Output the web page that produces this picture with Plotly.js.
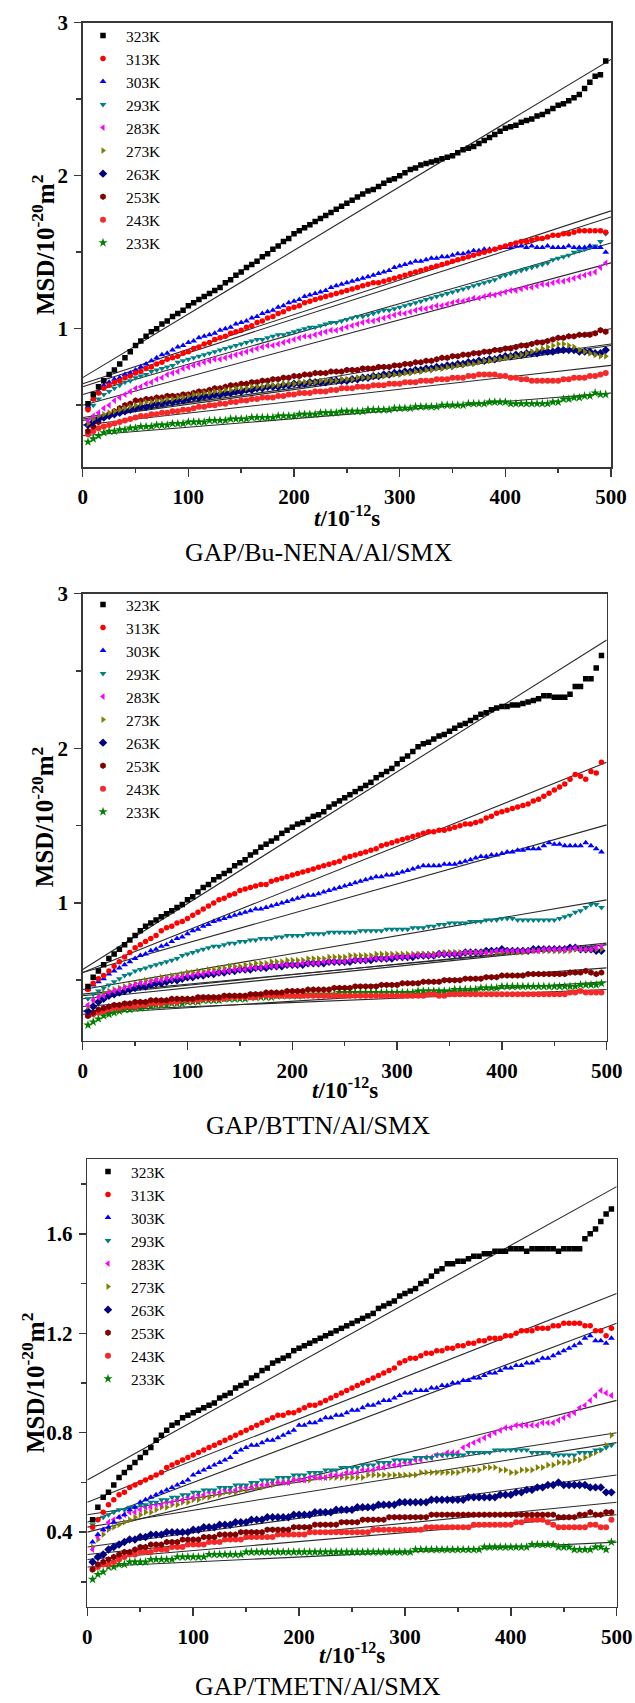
<!DOCTYPE html>
<html>
<head>
<meta charset="utf-8">
<script src="https://cdn.plot.ly/plotly-3.0.1.min.js"></script>
<style>
html,body{margin:0;padding:0;background:#fff;}
#chart{width:635px;height:1703px;}
</style>
</head>
<body>
<div id="chart"></div>
<script>
// ---------- time grid (ps) ----------
const t = [5,10,15,20,25,30,35,40,45,50,55,60,65,70,75,80,85,90,95,100,
105,110,115,120,125,130,135,140,145,150,155,160,165,170,175,180,185,190,195,200,
205,210,215,220,225,230,235,240,245,250,255,260,265,270,275,280,285,290,295,300,
305,310,315,320,325,330,335,340,345,350,355,360,365,370,375,380,385,390,395,400,
405,410,415,420,425,430,435,440,445,450,455,460,465,470,475,480,485,490,495];

const temps = ['323K','313K','303K','293K','283K','273K','263K','253K','243K','233K'];
const fitT = [0, 500];

// ---------- Panel 1: GAP/Bu-NENA/Al/SMX ----------
const bu323 = [0.51,0.57,0.62,0.66,0.70,0.73,0.77,0.81,0.85,0.89,0.92,0.95,0.98,1.00,1.03,1.05,1.08,1.10,1.12,1.15,
1.17,1.19,1.21,1.23,1.25,1.27,1.30,1.32,1.35,1.37,1.40,1.42,1.44,1.47,1.49,1.52,1.54,1.57,1.59,1.62,
1.64,1.66,1.68,1.70,1.72,1.74,1.76,1.78,1.80,1.82,1.84,1.86,1.88,1.90,1.91,1.93,1.95,1.97,1.98,2.00,
2.02,2.04,2.05,2.07,2.08,2.09,2.10,2.11,2.12,2.13,2.15,2.17,2.18,2.19,2.21,2.23,2.25,2.27,2.29,2.31,
2.32,2.33,2.35,2.36,2.37,2.39,2.40,2.42,2.44,2.46,2.47,2.49,2.51,2.53,2.57,2.61,2.65,2.66,2.75];
const bu313 = [0.47,0.54,0.58,0.61,0.63,0.65,0.66,0.68,0.69,0.71,0.72,0.74,0.75,0.77,0.78,0.80,0.81,0.82,0.84,0.85,
0.87,0.88,0.90,0.91,0.93,0.94,0.95,0.97,0.98,0.99,1.01,1.02,1.04,1.05,1.07,1.08,1.10,1.11,1.13,1.14,
1.15,1.17,1.18,1.19,1.20,1.21,1.22,1.23,1.24,1.25,1.26,1.27,1.28,1.29,1.30,1.30,1.31,1.32,1.33,1.34,
1.35,1.36,1.37,1.38,1.39,1.40,1.41,1.42,1.43,1.44,1.45,1.46,1.47,1.48,1.49,1.50,1.51,1.52,1.53,1.54,
1.55,1.56,1.57,1.57,1.58,1.59,1.59,1.60,1.61,1.61,1.62,1.62,1.63,1.64,1.64,1.64,1.64,1.64,1.63];
const bu303 = [0.49,0.54,0.59,0.63,0.65,0.67,0.68,0.70,0.71,0.73,0.75,0.77,0.79,0.81,0.83,0.84,0.86,0.88,0.89,0.91,
0.92,0.94,0.95,0.96,0.97,0.99,1.00,1.01,1.03,1.04,1.05,1.07,1.08,1.10,1.11,1.12,1.14,1.15,1.17,1.18,
1.19,1.21,1.22,1.23,1.24,1.25,1.27,1.28,1.29,1.30,1.31,1.32,1.33,1.34,1.35,1.36,1.37,1.38,1.40,1.41,
1.42,1.43,1.44,1.44,1.45,1.46,1.46,1.47,1.47,1.48,1.49,1.49,1.50,1.51,1.51,1.52,1.52,1.52,1.53,1.53,
1.53,1.54,1.54,1.53,1.54,1.53,1.53,1.54,1.53,1.53,1.53,1.54,1.53,1.53,1.53,1.54,1.53,1.53,1.50];
const bu293 = [0.47,0.50,0.54,0.57,0.59,0.61,0.63,0.65,0.66,0.68,0.69,0.70,0.72,0.73,0.74,0.75,0.76,0.78,0.79,0.80,
0.81,0.82,0.83,0.84,0.85,0.86,0.87,0.88,0.89,0.90,0.91,0.92,0.93,0.93,0.94,0.95,0.96,0.96,0.97,0.98,
0.99,1.00,1.01,1.01,1.02,1.03,1.04,1.04,1.05,1.06,1.07,1.08,1.08,1.09,1.10,1.11,1.12,1.12,1.13,1.14,
1.15,1.16,1.17,1.18,1.19,1.20,1.21,1.22,1.23,1.24,1.25,1.26,1.27,1.28,1.29,1.30,1.31,1.32,1.34,1.35,
1.36,1.37,1.38,1.39,1.40,1.41,1.42,1.43,1.45,1.46,1.47,1.48,1.50,1.51,1.52,1.53,1.54,1.57,1.62];
const bu283 = [0.40,0.43,0.45,0.48,0.50,0.53,0.55,0.57,0.59,0.61,0.62,0.64,0.65,0.67,0.68,0.70,0.71,0.72,0.74,0.75,
0.76,0.77,0.78,0.79,0.80,0.80,0.81,0.82,0.83,0.84,0.85,0.86,0.87,0.88,0.89,0.89,0.90,0.91,0.92,0.93,
0.94,0.95,0.95,0.96,0.97,0.98,0.99,0.99,1.00,1.01,1.02,1.03,1.04,1.05,1.05,1.06,1.07,1.08,1.09,1.10,
1.10,1.11,1.12,1.13,1.13,1.14,1.15,1.15,1.16,1.17,1.18,1.18,1.19,1.20,1.20,1.21,1.22,1.22,1.23,1.24,
1.25,1.25,1.26,1.27,1.27,1.28,1.29,1.29,1.30,1.31,1.31,1.32,1.33,1.34,1.35,1.36,1.37,1.40,1.43];
const bu273 = [0.38,0.41,0.43,0.44,0.45,0.46,0.47,0.48,0.49,0.50,0.51,0.52,0.52,0.53,0.53,0.54,0.54,0.55,0.55,0.56,
0.57,0.57,0.58,0.58,0.59,0.59,0.60,0.60,0.61,0.61,0.61,0.62,0.62,0.62,0.63,0.63,0.63,0.64,0.64,0.64,
0.65,0.65,0.65,0.65,0.66,0.66,0.66,0.66,0.67,0.67,0.67,0.68,0.68,0.68,0.69,0.69,0.69,0.70,0.70,0.70,
0.71,0.71,0.72,0.72,0.73,0.73,0.74,0.74,0.75,0.75,0.76,0.76,0.77,0.77,0.78,0.79,0.79,0.80,0.80,0.81,
0.82,0.82,0.83,0.84,0.85,0.86,0.87,0.88,0.89,0.90,0.90,0.89,0.88,0.86,0.85,0.84,0.83,0.82,0.82];
const bu263 = [0.37,0.39,0.41,0.42,0.43,0.44,0.45,0.46,0.47,0.48,0.49,0.49,0.50,0.51,0.51,0.52,0.52,0.53,0.53,0.54,
0.55,0.55,0.56,0.56,0.57,0.57,0.58,0.58,0.59,0.59,0.60,0.60,0.61,0.61,0.62,0.62,0.62,0.63,0.63,0.64,
0.64,0.64,0.65,0.65,0.65,0.65,0.66,0.66,0.66,0.66,0.67,0.67,0.68,0.68,0.69,0.69,0.70,0.70,0.71,0.71,
0.72,0.72,0.73,0.73,0.74,0.74,0.75,0.75,0.76,0.76,0.77,0.77,0.78,0.78,0.79,0.79,0.80,0.80,0.81,0.82,
0.82,0.83,0.83,0.84,0.84,0.84,0.85,0.85,0.85,0.86,0.86,0.86,0.86,0.85,0.85,0.85,0.84,0.84,0.86];
const bu253 = [0.33,0.36,0.39,0.42,0.44,0.46,0.48,0.50,0.51,0.53,0.53,0.54,0.54,0.55,0.55,0.56,0.56,0.56,0.57,0.57,
0.58,0.59,0.59,0.60,0.61,0.61,0.62,0.63,0.63,0.64,0.64,0.65,0.65,0.66,0.66,0.67,0.67,0.68,0.68,0.69,
0.69,0.70,0.70,0.71,0.71,0.71,0.72,0.72,0.72,0.73,0.73,0.73,0.74,0.74,0.74,0.75,0.75,0.75,0.76,0.76,
0.77,0.77,0.78,0.78,0.79,0.79,0.80,0.81,0.81,0.82,0.82,0.83,0.83,0.84,0.84,0.85,0.85,0.86,0.86,0.87,
0.87,0.88,0.89,0.89,0.90,0.91,0.91,0.92,0.93,0.94,0.94,0.95,0.95,0.96,0.96,0.96,0.97,0.99,0.98];
const bu243 = [0.31,0.33,0.35,0.36,0.37,0.38,0.39,0.40,0.41,0.42,0.43,0.43,0.44,0.44,0.45,0.45,0.46,0.46,0.47,0.47,
0.48,0.49,0.49,0.50,0.50,0.51,0.51,0.52,0.52,0.53,0.53,0.54,0.54,0.55,0.55,0.55,0.56,0.56,0.57,0.57,
0.58,0.58,0.58,0.59,0.59,0.59,0.60,0.60,0.61,0.61,0.61,0.62,0.62,0.62,0.63,0.63,0.63,0.64,0.64,0.64,
0.65,0.65,0.65,0.66,0.66,0.66,0.67,0.67,0.67,0.68,0.68,0.68,0.69,0.69,0.70,0.70,0.70,0.70,0.69,0.69,
0.68,0.68,0.67,0.67,0.66,0.66,0.66,0.66,0.66,0.66,0.67,0.67,0.68,0.68,0.68,0.69,0.69,0.70,0.71];
const bu233 = [0.26,0.28,0.30,0.32,0.33,0.33,0.34,0.34,0.35,0.35,0.36,0.36,0.36,0.37,0.37,0.37,0.38,0.38,0.38,0.39,
0.39,0.39,0.39,0.40,0.40,0.40,0.40,0.41,0.41,0.41,0.41,0.42,0.42,0.42,0.42,0.42,0.43,0.43,0.43,0.43,
0.44,0.44,0.44,0.44,0.45,0.45,0.45,0.45,0.46,0.46,0.46,0.46,0.46,0.47,0.47,0.47,0.47,0.47,0.48,0.48,
0.48,0.48,0.49,0.49,0.49,0.49,0.49,0.50,0.50,0.50,0.50,0.50,0.51,0.51,0.51,0.51,0.52,0.52,0.52,0.52,
0.51,0.51,0.51,0.51,0.51,0.51,0.51,0.51,0.52,0.52,0.54,0.54,0.55,0.55,0.56,0.56,0.58,0.57,0.57];
const buFitStart = [0.68,0.64,0.62,0.57,0.50,0.42,0.41,0.40,0.37,0.30];
const buFitEnd   = [2.76,1.77,1.73,1.56,1.43,0.90,0.89,1.00,0.76,0.58];

// ---------- Panel 2: GAP/BTTN/Al/SMX ----------
const bt323 = [0.46,0.52,0.56,0.60,0.64,0.67,0.70,0.73,0.76,0.79,0.82,0.85,0.87,0.89,0.91,0.93,0.95,0.97,0.99,1.02,
1.04,1.07,1.10,1.12,1.15,1.17,1.19,1.21,1.24,1.26,1.28,1.31,1.33,1.36,1.38,1.40,1.42,1.45,1.47,1.49,
1.51,1.52,1.54,1.56,1.57,1.59,1.62,1.64,1.66,1.68,1.70,1.72,1.74,1.76,1.78,1.81,1.83,1.85,1.87,1.90,
1.93,1.95,1.98,2.01,2.03,2.04,2.06,2.08,2.09,2.11,2.13,2.15,2.16,2.18,2.20,2.22,2.23,2.25,2.26,2.27,
2.27,2.28,2.28,2.29,2.30,2.31,2.32,2.34,2.34,2.33,2.33,2.33,2.35,2.40,2.40,2.45,2.45,2.52,2.60];
const bt313 = [0.44,0.48,0.51,0.53,0.56,0.59,0.62,0.65,0.68,0.71,0.73,0.75,0.77,0.79,0.82,0.84,0.85,0.87,0.88,0.90,
0.92,0.94,0.96,0.98,1.00,1.02,1.03,1.05,1.06,1.08,1.09,1.10,1.11,1.12,1.12,1.14,1.15,1.16,1.17,1.18,
1.19,1.20,1.21,1.22,1.23,1.24,1.25,1.26,1.27,1.29,1.30,1.31,1.32,1.33,1.34,1.35,1.37,1.38,1.39,1.40,
1.41,1.42,1.43,1.44,1.45,1.46,1.46,1.47,1.47,1.48,1.49,1.50,1.51,1.51,1.52,1.53,1.55,1.56,1.58,1.59,
1.60,1.61,1.62,1.63,1.64,1.66,1.67,1.69,1.71,1.73,1.75,1.77,1.80,1.83,1.82,1.80,1.85,1.84,1.91];
const bt303 = [0.44,0.47,0.49,0.51,0.54,0.56,0.58,0.60,0.62,0.64,0.66,0.67,0.69,0.70,0.72,0.73,0.75,0.77,0.78,0.80,
0.82,0.83,0.85,0.86,0.88,0.89,0.90,0.91,0.92,0.93,0.94,0.95,0.96,0.96,0.97,0.98,0.99,1.00,1.01,1.02,
1.03,1.04,1.05,1.05,1.06,1.07,1.08,1.09,1.10,1.11,1.12,1.13,1.14,1.15,1.16,1.17,1.17,1.18,1.18,1.19,
1.20,1.21,1.22,1.23,1.24,1.24,1.24,1.24,1.25,1.25,1.25,1.26,1.27,1.28,1.29,1.30,1.30,1.31,1.31,1.32,
1.33,1.33,1.34,1.34,1.35,1.35,1.35,1.37,1.39,1.38,1.38,1.37,1.37,1.37,1.37,1.39,1.37,1.35,1.33];
const bt293 = [0.38,0.41,0.43,0.45,0.47,0.49,0.51,0.53,0.54,0.56,0.57,0.58,0.59,0.60,0.61,0.62,0.63,0.64,0.66,0.67,
0.68,0.69,0.70,0.71,0.72,0.72,0.73,0.74,0.74,0.75,0.75,0.76,0.76,0.77,0.77,0.77,0.78,0.78,0.79,0.79,
0.79,0.79,0.80,0.80,0.80,0.80,0.81,0.81,0.81,0.81,0.81,0.81,0.82,0.82,0.82,0.82,0.82,0.83,0.83,0.83,
0.83,0.83,0.84,0.84,0.84,0.85,0.85,0.86,0.86,0.87,0.87,0.87,0.87,0.88,0.88,0.88,0.89,0.89,0.89,0.90,
0.90,0.90,0.89,0.89,0.89,0.89,0.89,0.89,0.89,0.89,0.90,0.91,0.92,0.94,0.95,0.97,0.99,0.99,0.97];
const bt283 = [0.34,0.37,0.39,0.40,0.42,0.43,0.44,0.45,0.46,0.47,0.48,0.48,0.49,0.50,0.50,0.51,0.51,0.52,0.52,0.53,
0.53,0.54,0.54,0.55,0.55,0.55,0.56,0.56,0.57,0.57,0.57,0.58,0.58,0.58,0.59,0.59,0.59,0.60,0.60,0.60,
0.60,0.61,0.61,0.61,0.61,0.62,0.62,0.62,0.62,0.62,0.63,0.63,0.63,0.63,0.64,0.64,0.64,0.64,0.65,0.65,
0.65,0.65,0.66,0.66,0.66,0.66,0.66,0.67,0.67,0.67,0.67,0.67,0.68,0.68,0.68,0.68,0.68,0.68,0.69,0.69,
0.69,0.69,0.69,0.69,0.69,0.69,0.69,0.70,0.70,0.70,0.70,0.70,0.70,0.71,0.70,0.70,0.70,0.71,0.72];
const bt273 = [0.33,0.37,0.40,0.42,0.43,0.44,0.45,0.46,0.47,0.48,0.49,0.50,0.50,0.51,0.52,0.52,0.53,0.53,0.54,0.55,
0.55,0.56,0.56,0.57,0.57,0.58,0.58,0.59,0.59,0.59,0.60,0.60,0.61,0.61,0.61,0.62,0.62,0.62,0.63,0.63,
0.63,0.63,0.64,0.64,0.64,0.64,0.65,0.65,0.65,0.65,0.66,0.66,0.66,0.66,0.66,0.67,0.67,0.67,0.67,0.67,
0.67,0.67,0.67,0.67,0.67,0.67,0.67,0.67,0.68,0.68,0.68,0.68,0.68,0.68,0.68,0.68,0.68,0.68,0.68,0.68,
0.68,0.68,0.68,0.68,0.69,0.69,0.69,0.69,0.69,0.69,0.69,0.69,0.69,0.70,0.70,0.70,0.70,0.70,0.70];
const bt263 = [0.30,0.33,0.36,0.38,0.40,0.41,0.42,0.43,0.44,0.45,0.46,0.46,0.47,0.48,0.48,0.49,0.50,0.50,0.51,0.52,
0.52,0.53,0.53,0.54,0.54,0.55,0.55,0.56,0.56,0.57,0.57,0.57,0.58,0.58,0.58,0.59,0.59,0.59,0.60,0.60,
0.60,0.60,0.61,0.61,0.61,0.61,0.62,0.62,0.62,0.62,0.62,0.63,0.63,0.63,0.63,0.64,0.64,0.64,0.64,0.65,
0.65,0.65,0.65,0.66,0.66,0.66,0.66,0.67,0.67,0.67,0.67,0.67,0.68,0.68,0.68,0.68,0.69,0.69,0.69,0.70,
0.69,0.69,0.69,0.69,0.69,0.70,0.70,0.70,0.70,0.70,0.70,0.70,0.71,0.71,0.70,0.70,0.70,0.69,0.69];
const bt253 = [0.27,0.29,0.31,0.32,0.33,0.34,0.34,0.35,0.35,0.36,0.36,0.36,0.37,0.37,0.37,0.37,0.38,0.38,0.38,0.38,
0.38,0.39,0.39,0.39,0.39,0.39,0.40,0.40,0.40,0.40,0.40,0.41,0.41,0.41,0.42,0.42,0.42,0.42,0.43,0.43,
0.43,0.43,0.44,0.44,0.44,0.44,0.44,0.45,0.45,0.45,0.45,0.46,0.46,0.46,0.46,0.46,0.47,0.47,0.47,0.47,
0.48,0.48,0.48,0.48,0.49,0.49,0.49,0.49,0.50,0.50,0.50,0.50,0.51,0.51,0.51,0.51,0.52,0.52,0.52,0.53,
0.53,0.53,0.53,0.53,0.54,0.54,0.54,0.54,0.54,0.54,0.54,0.54,0.55,0.55,0.55,0.56,0.55,0.54,0.55];
const bt243 = [0.27,0.28,0.29,0.30,0.31,0.32,0.32,0.33,0.33,0.33,0.34,0.34,0.35,0.35,0.35,0.36,0.36,0.36,0.37,0.37,
0.37,0.37,0.38,0.38,0.38,0.38,0.38,0.39,0.39,0.39,0.39,0.39,0.39,0.40,0.40,0.40,0.40,0.40,0.40,0.40,
0.40,0.40,0.40,0.40,0.40,0.40,0.40,0.40,0.40,0.40,0.40,0.40,0.40,0.40,0.40,0.40,0.40,0.40,0.40,0.40,
0.40,0.40,0.40,0.40,0.40,0.41,0.41,0.40,0.40,0.41,0.41,0.41,0.41,0.41,0.41,0.41,0.41,0.41,0.41,0.41,
0.41,0.41,0.41,0.41,0.41,0.41,0.41,0.41,0.41,0.41,0.41,0.41,0.42,0.42,0.43,0.42,0.42,0.42,0.42];
const bt233 = [0.21,0.23,0.25,0.27,0.28,0.29,0.30,0.31,0.31,0.32,0.32,0.33,0.33,0.34,0.34,0.34,0.35,0.35,0.35,0.36,
0.36,0.36,0.37,0.37,0.37,0.37,0.38,0.38,0.38,0.38,0.38,0.39,0.39,0.39,0.39,0.39,0.40,0.40,0.40,0.40,
0.40,0.40,0.41,0.41,0.41,0.41,0.41,0.41,0.42,0.42,0.42,0.42,0.42,0.42,0.42,0.42,0.42,0.42,0.42,0.42,
0.42,0.42,0.42,0.43,0.43,0.43,0.43,0.43,0.43,0.43,0.44,0.44,0.44,0.44,0.44,0.45,0.45,0.45,0.45,0.46,
0.46,0.46,0.46,0.46,0.46,0.46,0.46,0.46,0.46,0.46,0.46,0.46,0.46,0.46,0.47,0.47,0.47,0.47,0.48];
const btFitStart = [0.57,0.55,0.55,0.44,0.40,0.41,0.38,0.33,0.30,0.28];
const btFitEnd   = [2.70,1.91,1.505,1.02,0.74,0.73,0.73,0.58,0.44,0.49];

// ---------- Panel 3: GAP/TMETN/Al/SMX ----------
const tm323 = [0.45,0.50,0.54,0.56,0.59,0.62,0.64,0.66,0.68,0.70,0.72,0.74,0.77,0.79,0.81,0.83,0.84,0.86,0.87,0.88,
0.89,0.90,0.91,0.92,0.94,0.95,0.96,0.98,0.99,1.00,1.02,1.03,1.05,1.06,1.08,1.09,1.10,1.11,1.13,1.14,
1.15,1.16,1.17,1.18,1.19,1.20,1.21,1.22,1.23,1.24,1.25,1.26,1.27,1.28,1.30,1.31,1.32,1.33,1.35,1.36,
1.37,1.38,1.40,1.41,1.43,1.45,1.46,1.48,1.48,1.49,1.49,1.50,1.51,1.51,1.52,1.52,1.53,1.53,1.53,1.54,
1.54,1.54,1.53,1.54,1.54,1.54,1.54,1.54,1.53,1.54,1.54,1.54,1.54,1.58,1.60,1.62,1.65,1.68,1.70];
const tm313 = [0.42,0.45,0.48,0.51,0.53,0.55,0.56,0.58,0.59,0.60,0.61,0.62,0.63,0.64,0.66,0.67,0.68,0.69,0.70,0.71,
0.72,0.73,0.74,0.75,0.76,0.77,0.78,0.79,0.80,0.81,0.82,0.83,0.84,0.85,0.86,0.87,0.87,0.88,0.88,0.89,
0.90,0.91,0.91,0.92,0.93,0.94,0.95,0.96,0.97,0.98,0.99,1.00,1.01,1.02,1.03,1.04,1.05,1.06,1.08,1.09,
1.10,1.10,1.11,1.12,1.12,1.13,1.13,1.14,1.14,1.15,1.15,1.16,1.16,1.17,1.17,1.18,1.18,1.18,1.19,1.19,
1.20,1.21,1.21,1.21,1.22,1.22,1.22,1.23,1.23,1.24,1.24,1.24,1.24,1.23,1.23,1.21,1.21,1.19,1.22];
const tm303 = [0.36,0.39,0.41,0.42,0.44,0.46,0.47,0.49,0.50,0.52,0.53,0.54,0.55,0.56,0.57,0.58,0.59,0.60,0.61,0.63,
0.64,0.65,0.66,0.67,0.68,0.69,0.70,0.72,0.73,0.74,0.75,0.75,0.76,0.77,0.77,0.78,0.79,0.80,0.81,0.83,
0.83,0.84,0.84,0.85,0.86,0.86,0.87,0.87,0.88,0.89,0.89,0.90,0.91,0.91,0.92,0.93,0.93,0.94,0.95,0.96,
0.96,0.97,0.97,0.97,0.98,0.98,0.99,0.99,1.00,1.00,1.01,1.01,1.02,1.02,1.03,1.04,1.04,1.05,1.06,1.06,
1.07,1.07,1.08,1.08,1.09,1.10,1.10,1.11,1.12,1.13,1.14,1.15,1.16,1.18,1.19,1.17,1.17,1.16,1.18];
const tm293 = [0.43,0.45,0.46,0.47,0.48,0.49,0.49,0.50,0.50,0.51,0.51,0.52,0.52,0.53,0.53,0.54,0.54,0.55,0.55,0.56,
0.56,0.57,0.57,0.57,0.58,0.58,0.58,0.59,0.59,0.59,0.60,0.60,0.61,0.61,0.61,0.62,0.62,0.62,0.63,0.63,
0.63,0.64,0.64,0.64,0.65,0.65,0.65,0.66,0.66,0.66,0.66,0.67,0.67,0.67,0.68,0.68,0.68,0.69,0.69,0.69,
0.69,0.70,0.70,0.70,0.70,0.71,0.71,0.71,0.71,0.71,0.71,0.72,0.72,0.72,0.72,0.72,0.73,0.73,0.73,0.73,
0.73,0.73,0.73,0.72,0.72,0.72,0.72,0.71,0.71,0.71,0.71,0.71,0.72,0.72,0.72,0.73,0.73,0.74,0.75];
const tm283 = [0.33,0.38,0.41,0.44,0.45,0.46,0.47,0.48,0.48,0.49,0.50,0.50,0.51,0.51,0.52,0.52,0.53,0.53,0.54,0.54,
0.55,0.55,0.56,0.56,0.56,0.57,0.57,0.57,0.58,0.58,0.58,0.59,0.59,0.59,0.60,0.60,0.60,0.60,0.61,0.61,
0.61,0.62,0.62,0.62,0.62,0.63,0.63,0.63,0.64,0.64,0.64,0.65,0.65,0.65,0.66,0.66,0.67,0.67,0.67,0.68,
0.68,0.69,0.69,0.70,0.70,0.71,0.71,0.72,0.72,0.72,0.74,0.75,0.76,0.77,0.78,0.79,0.80,0.81,0.82,0.82,
0.83,0.83,0.83,0.83,0.83,0.84,0.84,0.84,0.85,0.86,0.87,0.88,0.90,0.91,0.93,0.95,0.97,0.96,0.95];
const tm273 = [0.34,0.37,0.39,0.41,0.42,0.43,0.44,0.45,0.46,0.47,0.48,0.48,0.49,0.50,0.50,0.51,0.51,0.52,0.52,0.53,
0.53,0.54,0.54,0.55,0.55,0.56,0.56,0.56,0.57,0.57,0.58,0.58,0.58,0.59,0.59,0.60,0.60,0.60,0.61,0.61,
0.61,0.61,0.62,0.62,0.62,0.62,0.62,0.62,0.62,0.62,0.62,0.62,0.63,0.63,0.63,0.63,0.63,0.63,0.63,0.63,
0.63,0.63,0.64,0.64,0.64,0.64,0.64,0.64,0.64,0.64,0.65,0.65,0.65,0.65,0.66,0.66,0.66,0.65,0.65,0.64,
0.64,0.65,0.65,0.65,0.66,0.66,0.67,0.67,0.68,0.68,0.68,0.69,0.69,0.70,0.71,0.72,0.73,0.75,0.79];
const tm263 = [0.28,0.30,0.31,0.33,0.34,0.35,0.36,0.37,0.37,0.38,0.38,0.39,0.39,0.39,0.40,0.40,0.40,0.40,0.40,0.41,
0.41,0.42,0.42,0.42,0.43,0.43,0.43,0.44,0.44,0.44,0.45,0.45,0.45,0.46,0.46,0.46,0.46,0.46,0.47,0.47,
0.47,0.47,0.48,0.48,0.48,0.48,0.49,0.49,0.49,0.49,0.50,0.50,0.50,0.50,0.51,0.51,0.51,0.51,0.52,0.52,
0.52,0.52,0.52,0.52,0.53,0.53,0.53,0.53,0.53,0.53,0.53,0.54,0.54,0.54,0.54,0.54,0.54,0.55,0.55,0.55,
0.56,0.56,0.57,0.57,0.58,0.58,0.59,0.59,0.60,0.59,0.59,0.59,0.59,0.59,0.58,0.58,0.58,0.56,0.56];
const tm253 = [0.25,0.27,0.28,0.29,0.30,0.31,0.32,0.32,0.33,0.34,0.34,0.35,0.35,0.35,0.36,0.36,0.36,0.37,0.37,0.37,
0.37,0.38,0.38,0.38,0.39,0.39,0.39,0.39,0.40,0.40,0.40,0.40,0.40,0.41,0.41,0.41,0.41,0.41,0.42,0.42,
0.42,0.42,0.43,0.43,0.43,0.43,0.43,0.44,0.44,0.44,0.44,0.45,0.45,0.45,0.45,0.45,0.46,0.46,0.46,0.46,
0.46,0.46,0.46,0.46,0.47,0.47,0.47,0.47,0.47,0.47,0.47,0.47,0.47,0.47,0.47,0.47,0.47,0.47,0.47,0.47,
0.47,0.47,0.47,0.47,0.47,0.47,0.47,0.47,0.46,0.46,0.46,0.46,0.47,0.47,0.48,0.47,0.47,0.48,0.48];
const tm243 = [0.25,0.26,0.27,0.27,0.28,0.29,0.30,0.31,0.31,0.32,0.32,0.32,0.33,0.33,0.33,0.34,0.34,0.34,0.35,0.35,
0.35,0.35,0.36,0.36,0.36,0.37,0.37,0.37,0.37,0.38,0.38,0.38,0.38,0.38,0.38,0.39,0.39,0.39,0.39,0.39,
0.39,0.40,0.40,0.40,0.40,0.40,0.40,0.40,0.40,0.40,0.40,0.40,0.40,0.41,0.41,0.41,0.41,0.41,0.41,0.41,
0.41,0.41,0.41,0.42,0.42,0.42,0.42,0.42,0.42,0.42,0.42,0.42,0.43,0.43,0.43,0.43,0.43,0.43,0.43,0.43,
0.44,0.44,0.45,0.45,0.45,0.45,0.44,0.43,0.42,0.42,0.42,0.42,0.42,0.42,0.43,0.43,0.42,0.42,0.45];
const tm233 = [0.21,0.23,0.24,0.26,0.26,0.27,0.27,0.28,0.28,0.28,0.28,0.29,0.29,0.29,0.29,0.29,0.30,0.30,0.30,0.30,
0.30,0.30,0.31,0.31,0.31,0.31,0.31,0.31,0.31,0.32,0.32,0.32,0.32,0.32,0.32,0.32,0.32,0.32,0.32,0.32,
0.32,0.32,0.32,0.32,0.32,0.32,0.32,0.32,0.32,0.32,0.32,0.32,0.32,0.32,0.32,0.32,0.32,0.32,0.32,0.32,
0.32,0.33,0.33,0.33,0.33,0.33,0.33,0.33,0.33,0.33,0.33,0.33,0.33,0.33,0.34,0.34,0.34,0.34,0.34,0.34,
0.34,0.34,0.34,0.35,0.35,0.35,0.35,0.35,0.34,0.34,0.34,0.33,0.33,0.33,0.33,0.34,0.34,0.33,0.36];
const tmFitStart = [0.61,0.52,0.44,0.47,0.40,0.42,0.34,0.31,0.29,0.26];
const tmFitEnd   = [1.79,1.36,1.24,0.80,0.93,0.76,0.63,0.52,0.47,0.36];

const captions = ['GAP/Bu-NENA/Al/SMX','GAP/BTTN/Al/SMX','GAP/TMETN/Al/SMX'];

// ---------- styles ----------
const symbols = ['square','circle','triangle-up','triangle-down','triangle-left','triangle-right','diamond','hexagon','circle','star'];
const colors  = ['#000000','#ff0000','#0000ff','#008080','#ff00ff','#808000','#000080','#800000','#f42a2a','#008000'];
const msize   = [5.5,5.5,6,6,6,6,6.5,6.5,6,7];

const W = 635, H = 1703;
const px = v => v / W;
const py = v => 1 - v / H;

// pixel geometry of each panel: left, right, top, bottom
const geom = [
  {l:82.7, r:611.0, t:22.7,   b:467.3,  yr:[0.094,3],  dt:1,   mdt:0.5, fmt:'', legTop:19,  legX:80,  ytx:43, cap:552.5, xt:516},
  {l:82.7, r:606.7, t:593.7,  b:1040.7, yr:[0.109,3],  dt:1,   mdt:0.5, fmt:'', legTop:588, legX:80,  ytx:43, cap:1125,  xt:1088},
  {l:87.3, r:616.7, t:1159.3, b:1606.7, yr:[0.1,1.9],  dt:0.4, mdt:0.2, fmt:'.1f', legTop:1155, legX:85, ytx:33, cap:1686, xt:1653}
];
const panelData = [
  [bu323,bu313,bu303,bu293,bu283,bu273,bu263,bu253,bu243,bu233],
  [bt323,bt313,bt303,bt293,bt283,bt273,bt263,bt253,bt243,bt233],
  [tm323,tm313,tm303,tm293,tm283,tm273,tm263,tm253,tm243,tm233]
];
const fitStarts = [buFitStart, btFitStart, tmFitStart];
const fitEnds = [buFitEnd, btFitEnd, tmFitEnd];

const serif = 'Liberation Serif, Times New Roman, serif';
const axisColor = '#383838';
const traces = [];
const layout = {
  width: W, height: H,
  margin: {l:0, r:0, t:0, b:0, pad:0},
  paper_bgcolor: '#ffffff', plot_bgcolor: '#ffffff',
  showlegend: true,
  font: {family: serif, color: '#000'},
  annotations: []
};

geom.forEach((g, p) => {
  const sfx = p === 0 ? '' : String(p + 1);
  const xa = 'x' + sfx, ya = 'y' + sfx;
  const legName = 'legend' + sfx;
  // fit lines
  for (let i = 0; i < temps.length; i++) {
    traces.push({
      x: fitT, y: [fitStarts[p][i], fitEnds[p][i]],
      xaxis: xa, yaxis: ya, mode: 'lines', showlegend: false, hoverinfo: 'skip',
      line: {color: '#2a2a2a', width: 1.1}
    });
  }
  // data points (plotted from the lowest temperature up, legend keeps order)
  for (let i = temps.length - 1; i >= 0; i--) {
    traces.push({
      x: t, y: panelData[p][i], name: temps[i],
      xaxis: xa, yaxis: ya, mode: 'markers', legend: legName,
      legendrank: i + 1,
      marker: {symbol: symbols[i], color: colors[i], size: msize[i], line: {width: 0}}
    });
  }
  layout['xaxis' + sfx] = {
    domain: [px(g.l), px(g.r)], anchor: ya, range: [0, 500],
    showline: true, mirror: true, linecolor: axisColor, linewidth: 1.6,
    ticks: 'outside', ticklen: 8, tickwidth: 1.5, tickcolor: axisColor,
    tick0: 0, dtick: 100,
    minor: {dtick: 50, ticks: 'outside', ticklen: 4, tickwidth: 1.5, tickcolor: axisColor},
    showgrid: false, zeroline: false,
    tickfont: {family: serif, size: 21, weight: 700, color: '#000'},
    ticklabelstandoff: 2
  };
  layout['yaxis' + sfx] = {
    domain: [py(g.b), py(g.t)], anchor: xa, range: g.yr,
    showline: true, mirror: true, linecolor: axisColor, linewidth: 1.6,
    ticks: 'outside', ticklen: 7, tickwidth: 1.5, tickcolor: axisColor,
    tick0: 0, dtick: g.dt, tickformat: g.fmt,
    minor: {dtick: g.mdt, ticks: 'outside', ticklen: 5, tickwidth: 1.5, tickcolor: axisColor},
    showgrid: false, zeroline: false,
    tickfont: {family: serif, size: 21, weight: 700, color: '#000'},
    ticklabelstandoff: 2
  };
  layout[legName] = {
    x: px(g.legX), y: py(g.legTop), xanchor: 'left', yanchor: 'top',
    bgcolor: 'rgba(0,0,0,0)', borderwidth: 0,
    font: {family: serif, size: 15.4, color: '#000'},
    itemwidth: 36, traceorder: 'normal'
  };
  // axis titles and caption
  layout.annotations.push({
    xref: 'paper', yref: 'paper', x: px((g.l + g.r) / 2), y: py(g.xt),
    xanchor: 'center', yanchor: 'middle', showarrow: false,
    text: '<i>t</i>/10<sup>-12</sup>s',
    font: {family: serif, size: 23, weight: 700, color: '#000'}
  });
  layout.annotations.push({
    xref: 'paper', yref: 'paper', x: px(g.ytx), y: py((g.t + g.b) / 2),
    xanchor: 'center', yanchor: 'middle', showarrow: false, textangle: -90,
    text: 'MSD/10<sup>-20</sup>m<sup>2</sup>',
    font: {family: serif, size: 25, weight: 700, color: '#000'}
  });
  layout.annotations.push({
    xref: 'paper', yref: 'paper', x: px(318), y: py(g.cap),
    xanchor: 'center', yanchor: 'middle', showarrow: false,
    text: captions[p],
    font: {family: serif, size: 26, color: '#000'}
  });
});

Plotly.newPlot('chart', traces, layout, {displayModeBar: false, staticPlot: true});
</script>
</body>
</html>
